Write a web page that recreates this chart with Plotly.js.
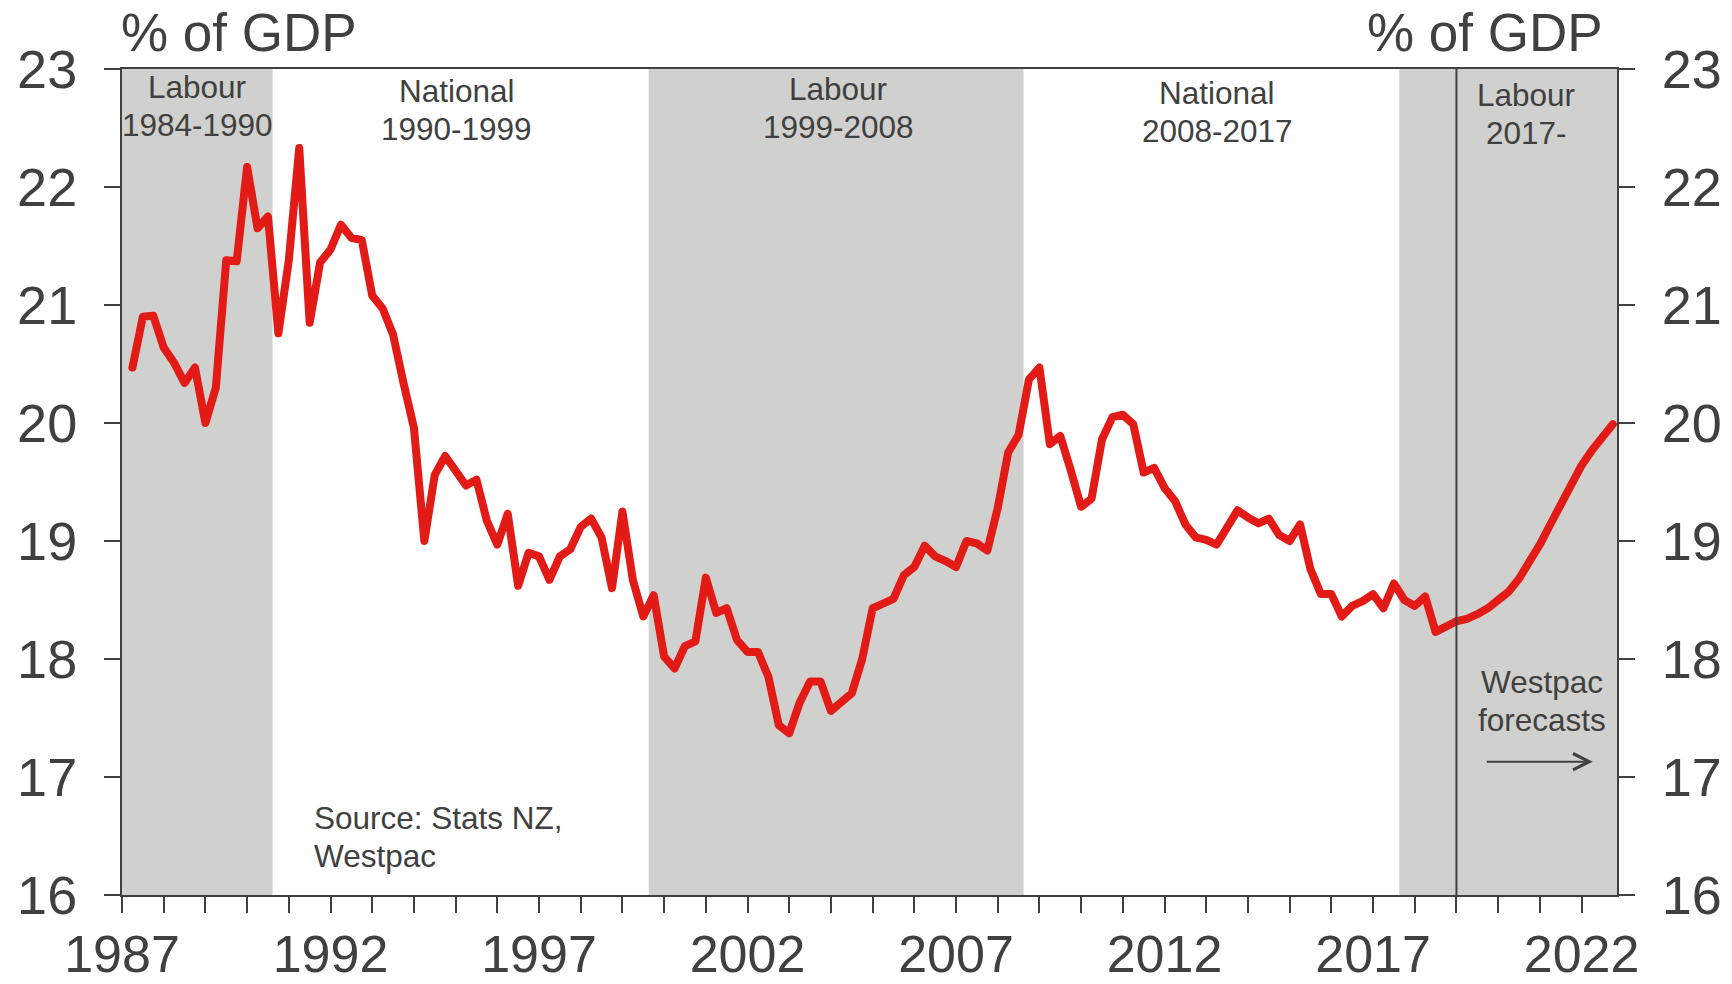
<!DOCTYPE html>
<html>
<head>
<meta charset="utf-8">
<script src="https://cdn.plot.ly/plotly-3.0.1.min.js"></script>
<style>
  html, body { margin: 0; padding: 0; background: #fff; }
  #chart { width: 1732px; height: 984px; }
  .js-line { stroke-linejoin: round; stroke-linecap: round; }
</style>
</head>
<body>
<div id="chart"></div>
<script>
// Government spending, % of GDP, quarterly from Jun 1987
var firstQuarter = 1987.25;

var actual = [
  20.47, 20.90, 20.91, 20.64, 20.51, 20.34, 20.47, 20.00, 20.30, 21.38, 21.37, 22.17,
  21.65, 21.75, 20.76, 21.38, 22.33, 20.85, 21.36, 21.47, 21.68, 21.57, 21.55, 21.08,
  20.97, 20.75, 20.34, 19.96, 19.00, 19.56, 19.72, 19.59, 19.47, 19.52, 19.17, 18.97,
  19.23, 18.62, 18.90, 18.87, 18.67, 18.87, 18.93, 19.12, 19.19, 19.03, 18.60, 19.25,
  18.67, 18.36, 18.54, 18.02, 17.92, 18.11, 18.15, 18.69, 18.39, 18.43, 18.16, 18.06,
  18.06, 17.85, 17.44, 17.37, 17.63, 17.81, 17.81, 17.56, 17.64, 17.71, 18.00, 18.43,
  18.47, 18.51, 18.71, 18.78, 18.96, 18.87, 18.83, 18.78, 19.00, 18.98, 18.92, 19.28,
  19.75, 19.90, 20.37, 20.47, 19.82, 19.89, 19.60, 19.29, 19.36, 19.86, 20.05, 20.07,
  19.99, 19.58, 19.62, 19.45, 19.34, 19.14, 19.03, 19.01, 18.97, 19.12, 19.26, 19.20,
  19.15, 19.19, 19.05, 19.00, 19.14, 18.76, 18.55, 18.55, 18.36, 18.45, 18.49, 18.55,
  18.43, 18.64, 18.50, 18.45, 18.53, 18.23, 18.27, 18.32
];

// Westpac forecasts, Mar 2019 onwards
var forecast = [
  18.34, 18.38, 18.43, 18.50, 18.57, 18.68, 18.81, 18.97, 19.14, 19.31, 19.48, 19.64,
  19.77, 19.89, 19.99
];

// Governments
var govNames = ['Labour', 'National', 'Labour', 'National', 'Labour'];
var govTerms = ['1984-1990', '1990-1999', '1999-2008', '2008-2017', '2017-'];
var labourFrom = [1987, 1999.63, 2017.63];
var labourTo = [1990.61, 2008.62, 2022.85];
var forecastStart = 2019.0;

// x axis tick labels
var tickYears = [];
for (var yr = 1987; yr <= 2022; yr++) tickYears.push(yr);
var labelYears = [1987, 1992, 1997, 2002, 2007, 2012, 2017, 2022];
var tickText = tickYears.map(function (yr) {
  return labelYears.indexOf(yr) >= 0 ? String(yr) : '';
});

var xActual = actual.map(function (v, i) { return firstQuarter + 0.25 * i; });
var lastX = xActual[xActual.length - 1];
var xForecast = [lastX].concat(forecast.map(function (v, i) { return lastX + 0.25 * (i + 1); }));
var yForecast = [actual[actual.length - 1]].concat(forecast);

var ink = '#404040';
var red = '#e31b17';
var font = 'Liberation Sans, Arial, sans-serif';
var smallFont = { family: font, size: 31.5, color: ink };

var traces = [
  {
    x: xActual, y: actual, type: 'scatter', mode: 'lines',
    line: { color: red, width: 8 }, hoverinfo: 'skip', showlegend: false
  },
  {
    x: xForecast, y: yForecast, type: 'scatter', mode: 'lines', yaxis: 'y2',
    line: { color: red, width: 8 }, hoverinfo: 'skip', showlegend: false
  }
];

var shapes = labourFrom.map(function (x0, i) {
  return {
    type: 'rect', xref: 'x', yref: 'paper', x0: x0, x1: labourTo[i], y0: 0, y1: 1,
    fillcolor: '#d0d0ce', line: { width: 0 }, layer: 'below'
  };
});
shapes.push({
  type: 'line', xref: 'x', yref: 'paper', x0: forecastStart, x1: forecastStart, y0: 0, y1: 1,
  line: { color: ink, width: 2 }, layer: 'above'
});

// stack lines of text as separate annotations, 38px apart
var lineGap = 38;
function stacked(lines, base) {
  return lines.map(function (txt, k) {
    return Object.assign({}, base, {
      text: txt, showarrow: false, font: smallFont,
      yshift: (base.yshift || 0) - k * lineGap
    });
  });
}

// label centres and vertical offsets (px)
var labelX = [1988.81, 1995.03, 2004.17, 2013.26, 2020.67];
var labelShift = [2, -2, 0, -4, -6];

var annotations = [];
govNames.forEach(function (name, i) {
  annotations = annotations.concat(stacked([name, govTerms[i]], {
    xref: 'x', yref: 'paper', x: labelX[i], y: 1, xanchor: 'center', yanchor: 'top',
    yshift: labelShift[i]
  }));
});

annotations = annotations.concat(
  stacked(['Source: Stats NZ,', 'Westpac'], {
    xref: 'x', yref: 'y', x: 1991.56, y: 16.825, xanchor: 'left', yanchor: 'top'
  }),
  stacked(['Westpac', 'forecasts'], {
    xref: 'x', yref: 'y', x: 2021.04, y: 17.973, xanchor: 'center', yanchor: 'top'
  })
);

annotations.push(
  {
    xref: 'paper', yref: 'paper', x: 0, y: 1, xanchor: 'left', yanchor: 'top',
    xshift: -3, yshift: 68, text: '% of GDP', showarrow: false,
    font: { family: font, size: 53, color: ink }
  },
  {
    xref: 'paper', yref: 'paper', x: 1, y: 1, xanchor: 'right', yanchor: 'top',
    xshift: -12, yshift: 68, text: '% of GDP', showarrow: false,
    font: { family: font, size: 53, color: ink }
  },
  {
    xref: 'x', yref: 'y', x: 2022.27, y: 17.13, axref: 'x', ayref: 'y', ax: 2019.69, ay: 17.13,
    text: '', showarrow: true, arrowhead: 5, arrowsize: 1.6, arrowwidth: 2, arrowcolor: ink
  }
);

var yStyle = {
  range: [16, 23], tick0: 16, dtick: 1, ticks: 'outside', ticklen: 16, tickwidth: 2,
  tickcolor: ink, showline: true, linecolor: ink, linewidth: 2, showgrid: false,
  zeroline: false, automargin: false, ticklabelstandoff: 16,
  tickfont: { family: font, size: 54, color: ink }
};

var layout = {
  width: 1732, height: 984,
  margin: { l: 122, r: 115, t: 69, b: 89 },
  paper_bgcolor: '#ffffff', plot_bgcolor: '#ffffff',
  font: { family: font, color: ink },
  showlegend: false,
  xaxis: {
    range: [1987, 2022.85], tickvals: tickYears, ticktext: tickText,
    ticks: 'outside', ticklen: 16, tickwidth: 2, tickcolor: ink,
    showline: true, linecolor: ink, linewidth: 2, mirror: true,
    showgrid: false, zeroline: false, automargin: false, ticklabelstandoff: -3,
    tickfont: { family: font, size: 52, color: ink }
  },
  yaxis: Object.assign({ side: 'left' }, yStyle),
  yaxis2: Object.assign({ side: 'right', overlaying: 'y' }, yStyle),
  shapes: shapes,
  annotations: annotations
};

Plotly.newPlot('chart', traces, layout, { staticPlot: true });
</script>
</body>
</html>
